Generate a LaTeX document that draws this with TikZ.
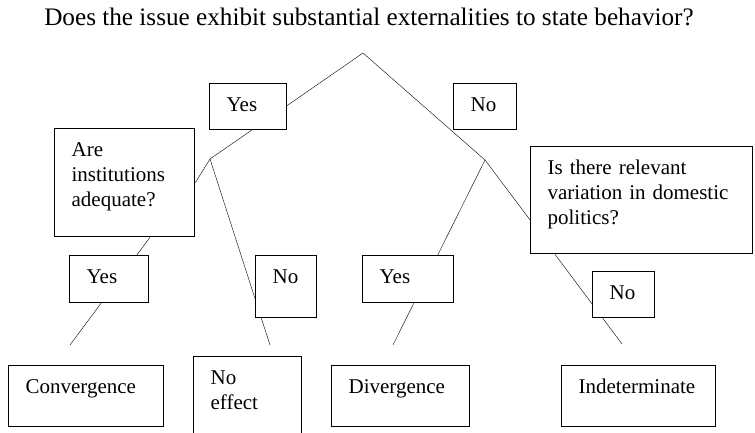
\documentclass[tikz,border=0pt]{standalone}
\usepackage{fontspec}
\setmainfont{Liberation Serif}
\usetikzlibrary{backgrounds}

\begin{document}
\begin{tikzpicture}[x=1pt,y=-1pt,line width=1.3pt,
  box/.style={draw,fill=white,anchor=north west,align=left,
    inner xsep=17pt,inner ysep=11pt,text height=17pt,
    font=\fontsize{21}{25}\selectfont}]
  \useasboundingbox (0,0) rectangle (755,432);
  \clip (0,0) rectangle (755,432);

  \node[anchor=base,font=\fontsize{25.2}{30}\selectfont] (question) at (369,25)
    {Does the issue exhibit substantial externalities to state behavior?};

  % first split
  \node[box,text width=43pt,text depth=7pt] (yesA) at (209,83) {Yes};
  \node[box,text width=29pt,text depth=7pt] (noA) at (453,83) {No};
  \node[box,text width=106pt,text depth=69pt] (inst) at (54,128) {Are\\institutions\\adequate?};
  \node[box,text width=188pt,text depth=68pt] (dom) at (530,146) {Is there relevant\\variation in domestic\\politics?};

  % second split
  \node[box,text width=45pt,text depth=8pt] (yesB) at (69,255) {Yes};
  \node[box,text width=27pt,text depth=23pt] (noB) at (255,255) {No};
  \node[box,text width=57pt,text depth=8pt] (yesC) at (362,255) {Yes};
  \node[box,text width=28pt,text depth=7pt] (noC) at (592,271) {No};

  % outcomes
  \node[box,text width=121pt,text depth=22pt] (conv) at (8,365) {Convergence};
  \node[box,text width=74pt,text depth=45pt] (noeff) at (193,356) {No\\effect};
  \node[box,text width=104pt,text depth=22pt] (div) at (331,365) {Divergence};
  \node[box,text width=120pt,text depth=22pt] (indet) at (561,365) {Indeterminate};

  \coordinate (top) at (363,53);
  \coordinate (left) at (210,159);
  \coordinate (right) at (485,160);
  \coordinate (endA) at (70,345);
  \coordinate (endB) at (270,345);
  \coordinate (endC) at (393,345);
  \coordinate (endD) at (622,344);

  \begin{scope}[on background layer]
    \draw (top) -- (left);
    \draw (top) -- (right);
    \draw (left) -- (inst.east);
    \draw (left) -- (endB);
    \draw ([xshift=96pt]inst.south west) -- (endA);
    \draw (right) -- (endC);
    \draw (right) -- (dom.190);
    \draw ([xshift=25pt]dom.south west) -- (endD);
  \end{scope}
\end{tikzpicture}
\end{document}
